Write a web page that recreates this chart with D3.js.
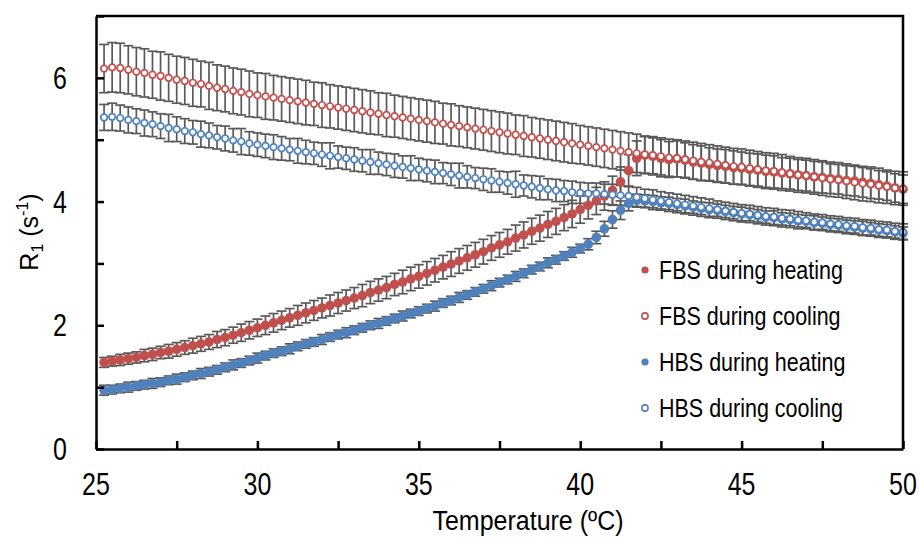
<!DOCTYPE html>
<html>
<head>
<meta charset="utf-8">
<script src="https://cdn.jsdelivr.net/npm/d3@7"></script>
<style>
  html, body { margin: 0; padding: 0; background: #fff; }
  svg { display: block; font-family: "Liberation Sans", Arial, sans-serif; }
</style>
</head>
<body>
<div id="chart"></div>
<script>
// temperature (ºC) of every reading
const temps = [
  25.25, 25.5, 25.75, 26, 26.25, 26.5, 26.75, 27, 27.25, 27.5,
  27.75, 28, 28.25, 28.5, 28.75, 29, 29.25, 29.5, 29.75, 30,
  30.25, 30.5, 30.75, 31, 31.25, 31.5, 31.75, 32, 32.25, 32.5,
  32.75, 33, 33.25, 33.5, 33.75, 34, 34.25, 34.5, 34.75, 35,
  35.25, 35.5, 35.75, 36, 36.25, 36.5, 36.75, 37, 37.25, 37.5,
  37.75, 38, 38.25, 38.5, 38.75, 39, 39.25, 39.5, 39.75, 40,
  40.25, 40.5, 40.75, 41, 41.25, 41.5, 41.75, 42, 42.25, 42.5,
  42.75, 43, 43.25, 43.5, 43.75, 44, 44.25, 44.5, 44.75, 45,
  45.25, 45.5, 45.75, 46, 46.25, 46.5, 46.75, 47, 47.25, 47.5,
  47.75, 48, 48.25, 48.5, 48.75, 49, 49.25, 49.5, 49.75, 50
];

// R1 (s-1)
const fbsHeating = [
  1.40, 1.42, 1.44, 1.46, 1.48, 1.51, 1.53, 1.56, 1.58, 1.61,
  1.64, 1.67, 1.70, 1.73, 1.77, 1.80, 1.84, 1.88, 1.92, 1.96,
  2.00, 2.04, 2.08, 2.12, 2.16, 2.20, 2.24, 2.28, 2.32, 2.36,
  2.40, 2.44, 2.48, 2.53, 2.57, 2.61, 2.66, 2.70, 2.75, 2.79,
  2.84, 2.89, 2.94, 2.99, 3.04, 3.09, 3.14, 3.19, 3.25, 3.30,
  3.35, 3.41, 3.46, 3.52, 3.57, 3.63, 3.68, 3.74, 3.80, 3.87,
  3.94, 4.01, 4.09, 4.18, 4.32, 4.50, 4.70, 4.75, 4.73, 4.70,
  4.68, 4.69, 4.67, 4.64, 4.62, 4.60, 4.58, 4.57, 4.55, 4.54,
  4.52, 4.51, 4.49, 4.48, 4.46, 4.45, 4.43, 4.42, 4.40, 4.39,
  4.37, 4.36, 4.34, 4.33, 4.31, 4.29, 4.27, 4.25, 4.22, 4.20
];
const fbsCooling = [
  6.15, 6.17, 6.16, 6.13, 6.10, 6.08, 6.05, 6.03, 6.00, 5.97,
  5.95, 5.92, 5.90, 5.87, 5.84, 5.82, 5.79, 5.77, 5.74, 5.72,
  5.70, 5.68, 5.66, 5.64, 5.62, 5.60, 5.58, 5.56, 5.54, 5.52,
  5.50, 5.48, 5.46, 5.44, 5.42, 5.40, 5.38, 5.36, 5.34, 5.32,
  5.30, 5.28, 5.26, 5.24, 5.22, 5.20, 5.18, 5.16, 5.14, 5.12,
  5.10, 5.08, 5.06, 5.04, 5.02, 5.00, 4.98, 4.96, 4.94, 4.92,
  4.90, 4.88, 4.86, 4.84, 4.82, 4.80, 4.78, 4.76, 4.75, 4.73,
  4.71, 4.70, 4.68, 4.66, 4.64, 4.63, 4.61, 4.59, 4.57, 4.56,
  4.54, 4.52, 4.50, 4.49, 4.47, 4.45, 4.43, 4.42, 4.40, 4.38,
  4.36, 4.35, 4.33, 4.31, 4.29, 4.28, 4.26, 4.24, 4.22, 4.21
];
const hbsHeating = [
  0.95, 0.96, 0.98, 1.00, 1.02, 1.04, 1.06, 1.08, 1.11, 1.13,
  1.16, 1.19, 1.22, 1.25, 1.28, 1.32, 1.36, 1.39, 1.43, 1.47,
  1.51, 1.55, 1.58, 1.62, 1.66, 1.70, 1.73, 1.77, 1.81, 1.85,
  1.88, 1.92, 1.96, 2.00, 2.03, 2.07, 2.11, 2.15, 2.19, 2.23,
  2.27, 2.31, 2.36, 2.40, 2.45, 2.49, 2.54, 2.59, 2.64, 2.69,
  2.74, 2.79, 2.84, 2.90, 2.95, 3.01, 3.06, 3.12, 3.18, 3.24,
  3.31, 3.42, 3.56, 3.71, 3.86, 3.97, 4.02, 4.01, 4.00, 3.98,
  3.97, 3.95, 3.93, 3.91, 3.89, 3.87, 3.86, 3.84, 3.82, 3.80,
  3.79, 3.77, 3.75, 3.74, 3.72, 3.71, 3.69, 3.68, 3.66, 3.65,
  3.63, 3.62, 3.60, 3.59, 3.57, 3.56, 3.54, 3.53, 3.51, 3.49
];
const hbsCooling = [
  5.36, 5.37, 5.35, 5.32, 5.30, 5.27, 5.25, 5.22, 5.19, 5.17,
  5.14, 5.12, 5.09, 5.07, 5.04, 5.02, 4.99, 4.97, 4.94, 4.92,
  4.90, 4.88, 4.86, 4.84, 4.82, 4.80, 4.78, 4.76, 4.74, 4.72,
  4.70, 4.68, 4.66, 4.64, 4.62, 4.60, 4.58, 4.56, 4.54, 4.52,
  4.50, 4.48, 4.46, 4.44, 4.42, 4.40, 4.38, 4.36, 4.34, 4.32,
  4.30, 4.28, 4.26, 4.24, 4.22, 4.20, 4.18, 4.17, 4.15, 4.14,
  4.13, 4.13, 4.12, 4.11, 4.10, 4.09, 4.07, 4.05, 4.03, 4.01,
  3.99, 3.97, 3.95, 3.93, 3.91, 3.89, 3.87, 3.85, 3.83, 3.81,
  3.80, 3.78, 3.76, 3.75, 3.73, 3.72, 3.70, 3.69, 3.67, 3.66,
  3.64, 3.63, 3.61, 3.60, 3.58, 3.57, 3.55, 3.54, 3.52, 3.51
];

// standard deviations (error bars)
const fbsHeatingErr = [
  0.08, 0.08, 0.09, 0.09, 0.09, 0.10, 0.10, 0.10, 0.11, 0.11,
  0.11, 0.12, 0.12, 0.12, 0.13, 0.13, 0.13, 0.14, 0.14, 0.14,
  0.15, 0.15, 0.15, 0.15, 0.16, 0.16, 0.16, 0.16, 0.17, 0.17,
  0.17, 0.17, 0.18, 0.18, 0.18, 0.18, 0.18, 0.19, 0.19, 0.19,
  0.19, 0.19, 0.19, 0.20, 0.20, 0.20, 0.20, 0.20, 0.20, 0.20,
  0.20, 0.21, 0.21, 0.21, 0.21, 0.21, 0.21, 0.21, 0.22, 0.22,
  0.22, 0.22, 0.23, 0.23, 0.24, 0.26, 0.28, 0.30, 0.30, 0.30,
  0.29, 0.29, 0.28, 0.28, 0.28, 0.27, 0.27, 0.27, 0.27, 0.26,
  0.26, 0.26, 0.26, 0.26, 0.25, 0.25, 0.25, 0.25, 0.25, 0.25,
  0.24, 0.24, 0.24, 0.24, 0.24, 0.24, 0.23, 0.23, 0.23, 0.23
];
const fbsCoolingErr = [
  0.39, 0.40, 0.40, 0.39, 0.39, 0.39, 0.38, 0.39, 0.38, 0.38,
  0.38, 0.38, 0.37, 0.38, 0.37, 0.37, 0.37, 0.37, 0.37, 0.36,
  0.37, 0.36, 0.36, 0.36, 0.36, 0.36, 0.35, 0.36, 0.35, 0.35,
  0.35, 0.35, 0.35, 0.35, 0.34, 0.35, 0.34, 0.34, 0.34, 0.34,
  0.34, 0.34, 0.33, 0.34, 0.33, 0.33, 0.33, 0.33, 0.33, 0.33,
  0.33, 0.32, 0.33, 0.32, 0.32, 0.32, 0.32, 0.32, 0.32, 0.31,
  0.31, 0.31, 0.31, 0.31, 0.31, 0.31, 0.31, 0.30, 0.30, 0.30,
  0.30, 0.30, 0.30, 0.30, 0.30, 0.29, 0.29, 0.29, 0.29, 0.29,
  0.29, 0.29, 0.29, 0.29, 0.29, 0.28, 0.28, 0.28, 0.28, 0.28,
  0.28, 0.28, 0.28, 0.28, 0.28, 0.28, 0.28, 0.27, 0.27, 0.27
];
const hbsHeatingErr = [
  0.08, 0.07, 0.07, 0.08, 0.07, 0.07, 0.08, 0.07, 0.07, 0.08,
  0.07, 0.07, 0.08, 0.07, 0.07, 0.07, 0.08, 0.07, 0.07, 0.08,
  0.07, 0.07, 0.07, 0.08, 0.07, 0.07, 0.07, 0.08, 0.07, 0.07,
  0.08, 0.07, 0.07, 0.07, 0.08, 0.07, 0.07, 0.08, 0.07, 0.07,
  0.07, 0.08, 0.07, 0.07, 0.08, 0.07, 0.07, 0.07, 0.08, 0.07,
  0.07, 0.08, 0.07, 0.07, 0.07, 0.08, 0.07, 0.07, 0.08, 0.07,
  0.09, 0.10, 0.12, 0.14, 0.15, 0.12, 0.10, 0.10, 0.10, 0.10,
  0.10, 0.10, 0.11, 0.10, 0.10, 0.11, 0.10, 0.10, 0.10, 0.11,
  0.10, 0.10, 0.10, 0.11, 0.10, 0.10, 0.10, 0.10, 0.11, 0.10,
  0.10, 0.10, 0.10, 0.10, 0.11, 0.10, 0.10, 0.10, 0.10, 0.10
];
const hbsCoolingErr = [
  0.21, 0.22, 0.21, 0.21, 0.20, 0.21, 0.20, 0.20, 0.22, 0.20,
  0.20, 0.19, 0.21, 0.20, 0.19, 0.20, 0.19, 0.21, 0.19, 0.19,
  0.19, 0.20, 0.19, 0.18, 0.20, 0.19, 0.18, 0.19, 0.21, 0.18,
  0.18, 0.19, 0.18, 0.20, 0.18, 0.18, 0.19, 0.18, 0.20, 0.18,
  0.18, 0.19, 0.17, 0.18, 0.20, 0.18, 0.17, 0.18, 0.19, 0.17,
  0.18, 0.21, 0.17, 0.18, 0.19, 0.17, 0.18, 0.17, 0.18, 0.17,
  0.17, 0.17, 0.16, 0.17, 0.16, 0.16, 0.16, 0.15, 0.16, 0.15,
  0.15, 0.15, 0.15, 0.15, 0.15, 0.15, 0.14, 0.14, 0.14, 0.14,
  0.14, 0.14, 0.14, 0.14, 0.14, 0.14, 0.14, 0.13, 0.13, 0.13,
  0.13, 0.13, 0.13, 0.13, 0.13, 0.13, 0.13, 0.13, 0.13, 0.13
];

const xTicks = [25, 27.5, 30, 32.5, 35, 37.5, 40, 42.5, 45, 47.5, 50];
const xLabels = [25, 30, 35, 40, 45, 50];
const yTicks = [0, 1, 2, 3, 4, 5, 6, 7];
const yLabels = [0, 2, 4, 6];
const seriesNames = ["FBS during heating", "FBS during cooling", "HBS during heating", "HBS during cooling"];

const red = "#C0504D";
const blue = "#4F81BD";
const series = [
  { name: seriesNames[0], values: fbsHeating, err: fbsHeatingErr, color: red, filled: true },
  { name: seriesNames[1], values: fbsCooling, err: fbsCoolingErr, color: red, filled: false },
  { name: seriesNames[2], values: hbsHeating, err: hbsHeatingErr, color: blue, filled: true },
  { name: seriesNames[3], values: hbsCooling, err: hbsCoolingErr, color: blue, filled: false }
];

const width = 919, height = 538;
const margin = { top: 16, right: 16, bottom: 89, left: 96 };

const svg = d3.select("#chart")
  .append("svg")
  .attr("width", width)
  .attr("height", height);

const x = d3.scaleLinear().domain([25, 50]).range([margin.left, width - margin.right]);
const y = d3.scaleLinear().domain([0, 7]).range([height - margin.bottom, margin.top]);

// error bars first, markers on top
const capW = 5;
const bars = svg.append("g").attr("stroke", "#595959").attr("stroke-width", 1.7);
series.forEach(s => {
  const g = bars.append("g");
  temps.forEach((t, i) => {
    const cx = x(t), lo = y(s.values[i] - s.err[i]), hi = y(s.values[i] + s.err[i]);
    g.append("line").attr("x1", cx).attr("x2", cx).attr("y1", lo).attr("y2", hi);
    g.append("line").attr("x1", cx - capW).attr("x2", cx + capW).attr("y1", lo).attr("y2", lo);
    g.append("line").attr("x1", cx - capW).attr("x2", cx + capW).attr("y1", hi).attr("y2", hi);
  });
});

series.forEach(s => {
  svg.append("g")
    .selectAll("circle")
    .data(temps.map((t, i) => ({ t: t, v: s.values[i] })))
    .join("circle")
    .attr("cx", d => x(d.t))
    .attr("cy", d => y(d.v))
    .attr("r", s.filled ? 4.8 : 3.3)
    .attr("fill", s.filled ? s.color : "#fff")
    .attr("stroke", s.filled ? "none" : s.color)
    .attr("stroke-width", 1.7);
});

// axes, ticks pointing inward
const xAxis = svg.append("g")
  .attr("transform", `translate(0,${y(0)})`)
  .call(d3.axisBottom(x).tickValues(xTicks).tickSizeInner(-8).tickSizeOuter(0).tickFormat(""));
const yAxis = svg.append("g")
  .attr("transform", `translate(${x(25)},0)`)
  .call(d3.axisLeft(y).tickValues(yTicks).tickSizeInner(-8).tickSizeOuter(0).tickFormat(""));
[xAxis, yAxis].forEach(a => a.selectAll("path, line").attr("stroke", "#000").attr("stroke-width", 2.5));

svg.append("path")
  .attr("d", `M${x(25)},${y(7)}H${x(50)}V${y(0)}`)
  .attr("fill", "none")
  .attr("stroke", "#000")
  .attr("stroke-width", 2.5);

// tick labels
svg.append("g")
  .selectAll("text")
  .data(xLabels)
  .join("text")
  .attr("transform", d => `translate(${x(d)},495) scale(1,1.22)`)
  .attr("text-anchor", "middle")
  .attr("font-size", 25)
  .text(d => d);

svg.append("g")
  .selectAll("text")
  .data(yLabels)
  .join("text")
  .attr("transform", d => `translate(67,${y(d) + 11}) scale(1,1.22)`)
  .attr("text-anchor", "end")
  .attr("font-size", 25)
  .text(d => d);

// axis titles
svg.append("text")
  .attr("transform", "translate(528,530) scale(1,1.12)")
  .attr("text-anchor", "middle")
  .attr("font-size", 25)
  .text("Temperature (ºC)");

const yTitle = svg.append("text")
  .attr("transform", "translate(38,232) rotate(-90)")
  .attr("text-anchor", "middle")
  .attr("font-size", 25);
yTitle.append("tspan").text("R");
yTitle.append("tspan").attr("font-size", 16).attr("dy", 5).text("1");
yTitle.append("tspan").attr("dy", -5).text(" (s");
yTitle.append("tspan").attr("font-size", 16).attr("dy", -10).text("-1");
yTitle.append("tspan").attr("dy", 10).text(")");

// legend
const legendY = [270, 316, 362, 408];
const legend = svg.append("g");
series.forEach((s, i) => {
  legend.append("circle")
    .attr("cx", 645)
    .attr("cy", legendY[i])
    .attr("r", s.filled ? 3.6 : 3.1)
    .attr("fill", s.filled ? s.color : "#fff")
    .attr("stroke", s.filled ? "none" : s.color)
    .attr("stroke-width", 1.6);
  legend.append("text")
    .attr("transform", `translate(659,${legendY[i] + 9}) scale(1,1.2)`)
    .attr("font-size", 21.5)
    .text(s.name);
});
</script>
</body>
</html>
